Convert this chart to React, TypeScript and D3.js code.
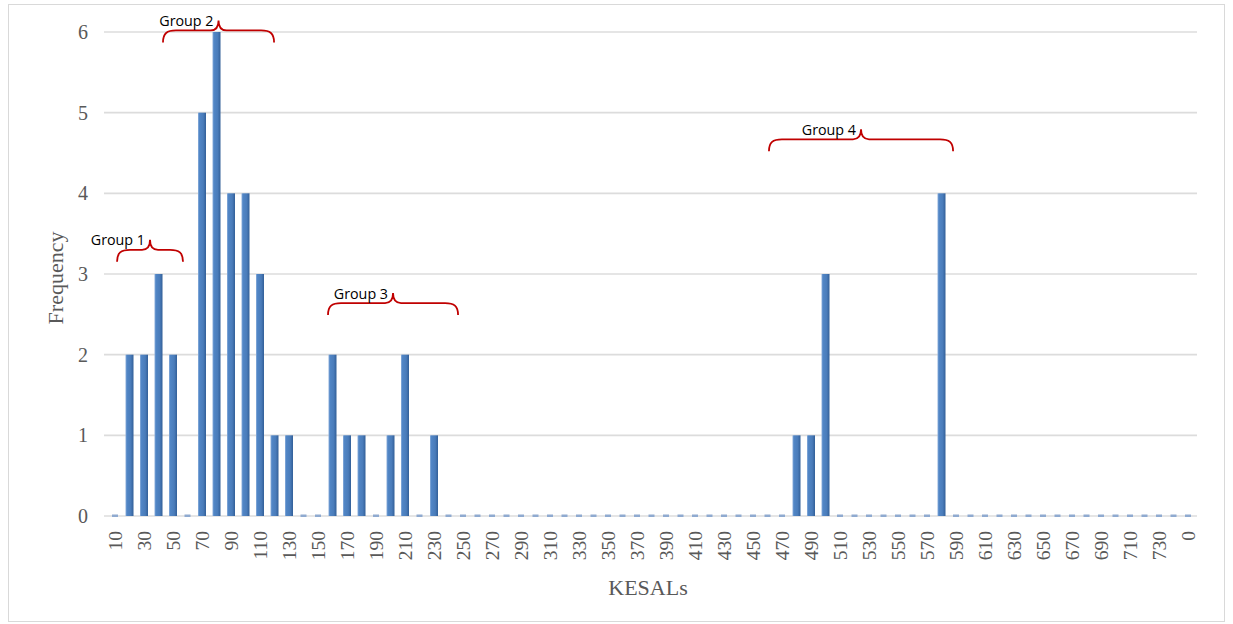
import React from "react";
import * as d3 from "d3";

const categories: string[] = [
  "10","20","30","40","50","60","70","80","90","100",
  "110","120","130","140","150","160","170","180","190","200",
  "210","220","230","240","250","260","270","280","290","300",
  "310","320","330","340","350","360","370","380","390","400",
  "410","420","430","440","450","460","470","480","490","500",
  "510","520","530","540","550","560","570","580","590","600",
  "610","620","630","640","650","660","670","680","690","700",
  "710","720","730","740","0",
];

const frequency: number[] = [
  0,2,2,3,2,0,5,6,4,4,
  3,1,1,0,0,2,1,1,0,1,
  2,0,1,0,0,0,0,0,0,0,
  0,0,0,0,0,0,0,0,0,0,
  0,0,0,0,0,0,0,1,1,3,
  0,0,0,0,0,0,0,4,0,0,
  0,0,0,0,0,0,0,0,0,0,
  0,0,0,0,0,
];

const yTicks: number[] = [0, 1, 2, 3, 4, 5, 6];

// Group annotations: span in category-index units, flat line height in frequency units
const groupLabels: string[] = ["Group 1", "Group 2", "Group 3", "Group 4"];
const groupFrom: number[] = [0.14, 3.31, 14.69, 45.1];
const groupTo: number[] = [4.69, 10.97, 23.66, 57.8];
const groupLevel: number[] = [3.3, 6.02, 2.64, 4.67];

const W = 1233;
const H = 624;

export default function App() {
  const x = d3
    .scaleBand<string>()
    .domain(categories)
    .range([107.75, 1195.25])
    .paddingInner(0)
    .paddingOuter(0);
  const step = x.step();
  const xIdx = d3
    .scaleLinear()
    .domain([0, 1])
    .range([107.75 + step / 2, 107.75 + step * 1.5]);
  const y = d3.scaleLinear().domain([0, 6]).range([516, 32]);
  const barW = 8;

  const serif = "'Liberation Serif', 'DejaVu Serif', serif";
  const grey = "#595959";

  const bracePath = (x0: number, x1: number, yf: number) => {
    const drop = 12;
    const rise = 10;
    const r = 13;
    const pk = (x0 + x1) / 2;
    const r2 = 6;
    return [
      `M${x0},${yf + drop}`,
      `C${x0},${yf + 3} ${x0 + 4},${yf} ${x0 + r},${yf}`,
      `L${pk - r2 - 2},${yf}`,
      `C${pk - 2},${yf} ${pk},${yf - 4} ${pk},${yf - rise}`,
      `C${pk},${yf - 4} ${pk + 2},${yf} ${pk + r2 + 2},${yf}`,
      `L${x1 - r},${yf}`,
      `C${x1 - 4},${yf} ${x1},${yf + 3} ${x1},${yf + drop}`,
    ].join(" ");
  };

  return (
    <svg
      width={W}
      height={H}
      style={{ position: "absolute", left: 0, top: 0, background: "#fff" }}
    >
      <defs>
        <linearGradient id="barGrad" x1="0" x2="1" y1="0" y2="0">
          <stop offset="0" stopColor="#8eb0dc" />
          <stop offset="0.18" stopColor="#5186c6" />
          <stop offset="0.65" stopColor="#4a7cba" />
          <stop offset="1" stopColor="#325f98" />
        </linearGradient>
      </defs>
      <rect x={8.5} y={4.5} width={1216} height={617} fill="#fff" stroke="#d9d9d9" />

      {/* gridlines */}
      {yTicks.map((t) => (
        <line
          key={`g${t}`}
          x1={104}
          x2={1197}
          y1={y(t)}
          y2={y(t)}
          stroke="#dcdcdc"
          strokeWidth={1.6}
        />
      ))}

      {/* y tick labels */}
      {yTicks.map((t) => (
        <text
          key={`yt${t}`}
          x={88}
          y={y(t)}
          textAnchor="end"
          dominantBaseline="central"
          fontFamily={serif}
          fontSize={20}
          fill={grey}
        >
          {t}
        </text>
      ))}

      {/* zero dashes */}
      {categories.map((c, i) =>
        frequency[i] === 0 ? (
          <rect
            key={`z${c}`}
            x={(x(c) as number) + step / 2 - 3}
            y={y(0) - 1.5}
            width={6}
            height={2.5}
            fill="#8faad0"
          />
        ) : null
      )}

      {/* bars */}
      {categories.map((c, i) =>
        frequency[i] > 0 ? (
          <rect
            key={`b${c}`}
            x={(x(c) as number) + step / 2 - barW / 2}
            y={y(frequency[i])}
            width={barW}
            height={y(0) - y(frequency[i])}
            fill="url(#barGrad)"
          />
        ) : null
      )}

      {/* x tick labels */}
      {categories.map((c, i) =>
        i % 2 === 0 ? (
          <text
            key={`xt${c}`}
            transform={`translate(${(x(c) as number) + step / 2},531) rotate(-90)`}
            textAnchor="end"
            dominantBaseline="central"
            fontFamily={serif}
            fontSize={19.5}
            fill={grey}
          >
            {c}
          </text>
        ) : null
      )}

      {/* axis titles */}
      <text
        x={648}
        y={595}
        textAnchor="middle"
        fontFamily={serif}
        fontSize={22}
        fill={grey}
      >
        KESALs
      </text>
      <text
        transform="translate(63,278) rotate(-90)"
        textAnchor="middle"
        fontFamily={serif}
        fontSize={22}
        fill={grey}
      >
        Frequency
      </text>

      {/* group braces */}
      {groupLabels.map((g, i) => {
        const x0 = xIdx(groupFrom[i]);
        const x1 = xIdx(groupTo[i]);
        const yf = y(groupLevel[i]);
        const pk = (x0 + x1) / 2;
        return (
          <g key={g}>
            <path
              d={bracePath(x0, x1, yf)}
              fill="none"
              stroke="#c00000"
              strokeWidth={1.8}
            />
            <text
              x={pk - 5}
              y={yf - 4.5}
              textAnchor="end"
              fontFamily="'Open Sans', 'Liberation Sans', sans-serif"
              fontSize={14.3}
              fill="#000"
            >
              {g}
            </text>
          </g>
        );
      })}
    </svg>
  );
}
